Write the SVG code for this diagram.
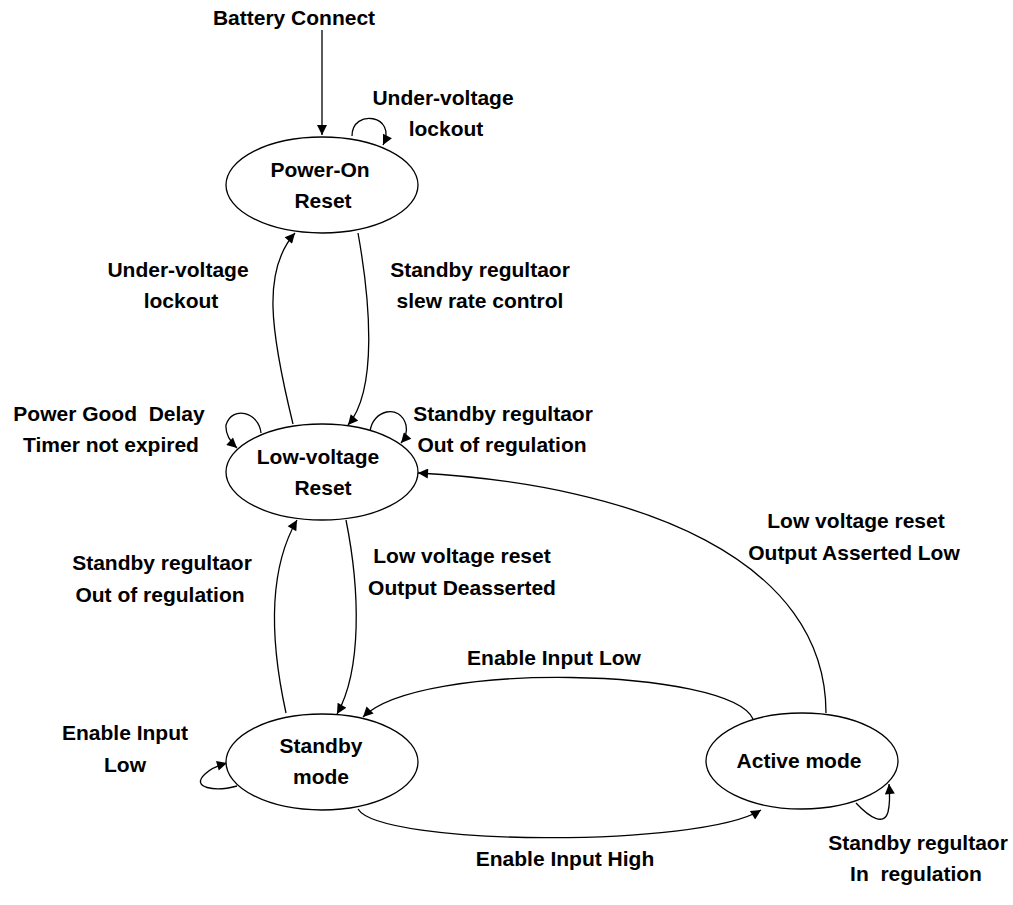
<svg xmlns="http://www.w3.org/2000/svg" width="1013" height="905" viewBox="0 0 1013 905">
<style>
.t{font-family:"Liberation Sans",Arial,sans-serif;font-weight:bold;font-size:21px;text-anchor:middle;fill:#000;white-space:pre}
.n{fill:#fff;stroke:#000;stroke-width:1.3}
.c{fill:none;stroke:#000;stroke-width:1.3}
</style>
<defs>
<marker id="arr" viewBox="0 0 10 10" refX="10" refY="5" markerWidth="12" markerHeight="10" orient="auto" markerUnits="userSpaceOnUse">
<path d="M0,0 L10,5 L0,10 z" fill="#000"/>
</marker>
</defs>
<rect width="1013" height="905" fill="#fff"/>
<g id="connectors">
<path class="c" d="M322,30 L322,135" marker-end="url(#arr)"/>
<path class="c" d="M352,136 C352,108 398,115 383,145" marker-end="url(#arr)"/>
<path class="c" d="M293,424 C270,330 262,270 295,233" marker-end="url(#arr)"/>
<path class="c" d="M358,233 C370,300 378,390 348,425" marker-end="url(#arr)"/>
<path class="c" d="M261,433 C259,412 232,405 226,425 Q225,437 237,448" marker-end="url(#arr)"/>
<path class="c" d="M370,432 C372,410 400,403 406,425 Q408,435 401,443" marker-end="url(#arr)"/>
<path class="c" d="M286,713 C270,640 268,570 297,520" marker-end="url(#arr)"/>
<path class="c" d="M346,520 C360,590 362,670 337,714" marker-end="url(#arr)"/>
<path class="c" d="M826,713 C826,560 640,485 418,473" marker-end="url(#arr)"/>
<path class="c" d="M753,719 C730,668 420,660 363,717" marker-end="url(#arr)"/>
<path class="c" d="M358,809 C380,846 700,848 761,810" marker-end="url(#arr)"/>
<path class="c" d="M237,786 C215,792 190,788 205,774 C212,767 220,765 227,763" marker-end="url(#arr)"/>
<path class="c" d="M856,803 C870,818 884,826 888,812 C890,804 890,796 889,784" marker-end="url(#arr)"/>
</g>
<g id="por">
<ellipse class="n" cx="322" cy="185" rx="96" ry="48"/>
<text class="t" x="320" y="177">Power-On</text>
<text class="t" x="323" y="208">Reset</text>
</g>
<g id="lvr">
<ellipse class="n" cx="322" cy="472" rx="96" ry="48"/>
<text class="t" x="318" y="464">Low-voltage</text>
<text class="t" x="323" y="495">Reset</text>
</g>
<g id="standby">
<ellipse class="n" cx="322" cy="762" rx="96" ry="48"/>
<text class="t" x="321" y="753">Standby</text>
<text class="t" x="321" y="784">mode</text>
</g>
<g id="active">
<ellipse class="n" cx="802" cy="761" rx="96" ry="48"/>
<text class="t" x="799" y="768">Active mode</text>
</g>
<g id="labels">
<text class="t" x="294" y="25">Battery Connect</text>
<text class="t" x="443" y="105">Under-voltage</text>
<text class="t" x="446" y="136">lockout</text>
<text class="t" x="178" y="277">Under-voltage</text>
<text class="t" x="181" y="308">lockout</text>
<text class="t" x="480" y="277">Standby regultaor</text>
<text class="t" x="480" y="308">slew rate control</text>
<text class="t" x="109" y="421">Power Good  Delay</text>
<text class="t" x="111" y="452">Timer not expired</text>
<text class="t" x="503" y="421">Standby regultaor</text>
<text class="t" x="502" y="452">Out of regulation</text>
<text class="t" x="856" y="528">Low voltage reset</text>
<text class="t" x="854" y="560">Output Asserted Low</text>
<text class="t" x="162" y="570">Standby regultaor</text>
<text class="t" x="160" y="602">Out of regulation</text>
<text class="t" x="462" y="563">Low voltage reset</text>
<text class="t" x="462" y="595">Output Deasserted</text>
<text class="t" x="554" y="665">Enable Input Low</text>
<text class="t" x="125" y="740">Enable Input</text>
<text class="t" x="125" y="772">Low</text>
<text class="t" x="918" y="850">Standby regultaor</text>
<text class="t" x="916" y="881">In  regulation</text>
<text class="t" x="565" y="866">Enable Input High</text>
</g>
</svg>
